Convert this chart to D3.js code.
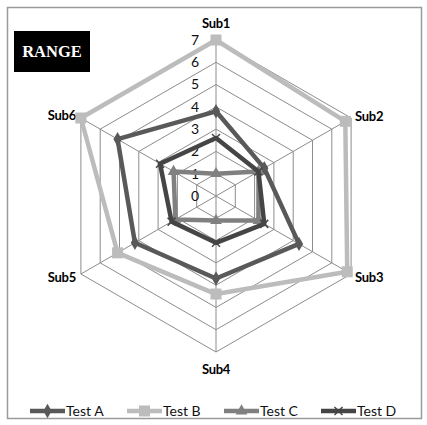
<!DOCTYPE html>
<html><head><meta charset="utf-8">
<script src="https://cdn.jsdelivr.net/npm/d3@7"></script>
<style>html,body{margin:0;padding:0;background:#fff;}svg{display:block;}</style>
</head><body>
<svg id="c" width="427" height="425"></svg>
<script>
const subjects = ["Sub1","Sub2","Sub3","Sub4","Sub5","Sub6"];
const tickValues = [0,1,2,3,4,5,6,7];
const seriesNames = ["Test A","Test B","Test C","Test D"];
const testA = [3.8, 2.5, 4.3, 3.7, 4.2, 5.1];
const testB = [7, 6.7, 6.8, 4.4, 5.1, 7];
const testC = [1, 2.2, 2.2, 1.1, 2.1, 2.2];
const testD = [2.6, 2.2, 2.5, 2.1, 2.3, 2.9];
const titleText = "RANGE";

const series = [
  {name: seriesNames[0], values: testA, color: "#595959", marker: "diamond"},
  {name: seriesNames[1], values: testB, color: "#bcbcbc", marker: "square"},
  {name: seriesNames[2], values: testC, color: "#808080", marker: "triangle"},
  {name: seriesNames[3], values: testD, color: "#454545", marker: "cross"}
];

const svg = d3.select("#c");
const cx = 216, cy = 196;
const r = d3.scaleLinear().domain([0, 7]).range([0, 156]);
const ang = d3.scaleLinear().domain([0, subjects.length]).range([0, 2*Math.PI]);
const pt = (i, v) => [cx + r(v)*Math.sin(ang(i)), cy - r(v)*Math.cos(ang(i))];

// border
svg.append("rect").attr("x",7.5).attr("y",7.5).attr("width",414).attr("height",411)
  .attr("fill","#fff").attr("stroke","#9a9a9a").attr("stroke-width",1.5);

// grid rings
const g = svg.append("g");
tickValues.filter(t => t > 0).forEach(t => {
  g.append("polygon")
    .attr("points", subjects.map((s,i) => pt(i,t).join(",")).join(" "))
    .attr("fill","none").attr("stroke","#8c8c8c").attr("stroke-width",1);
});
subjects.forEach((s,i) => {
  const p = pt(i, 7);
  g.append("line").attr("x1",cx).attr("y1",cy).attr("x2",p[0]).attr("y2",p[1])
    .attr("stroke","#8c8c8c").attr("stroke-width",1);
});

// tick labels
tickValues.forEach(t => {
  svg.append("text").attr("x", cx - 17).attr("y", cy - r(t)).attr("dy","0.35em")
    .attr("text-anchor","end").attr("font-family","Lato, 'Open Sans', sans-serif")
    .attr("font-size",14).attr("fill","#111").text(t);
});

// axis labels
subjects.forEach((s,i) => {
  const p = pt(i, 7);
  let x = p[0], y = p[1], anchor = "middle";
  if (i === 0) { y = p[1] - 17; }
  else if (i === 3) { y = p[1] + 17; }
  else if (i === 1 || i === 2) { x = p[0] + 4; anchor = "start"; y = p[1] + (i===1?-2:3); }
  else { x = p[0] - 5; anchor = "end"; y = p[1] + (i===5?-3:3); }
  svg.append("text").attr("x",x).attr("y",y).attr("dy","0.35em").attr("text-anchor",anchor)
    .attr("font-family","Lato, sans-serif").attr("font-weight","bold").attr("font-size",13)
    .attr("letter-spacing","-0.3").attr("fill","#000").text(s);
});

function drawMarker(sel, type, x, y, color) {
  if (type === "diamond") {
    sel.append("path").attr("d", d3.symbol(d3.symbolDiamond, 60)()).attr("transform",`translate(${x},${y})`).attr("fill",color);
  } else if (type === "square") {
    sel.append("rect").attr("x",x-5.5).attr("y",y-5.5).attr("width",11).attr("height",11).attr("fill",color);
  } else if (type === "triangle") {
    sel.append("path").attr("d", d3.symbol(d3.symbolTriangle, 60)()).attr("transform",`translate(${x},${y})`).attr("fill",color);
  } else {
    sel.append("path").attr("d", `M${x-4},${y-4}L${x+4},${y+4}M${x-4},${y+4}L${x+4},${y-4}`)
      .attr("stroke",color).attr("stroke-width",1.5).attr("fill","none");
  }
}

const line = d3.lineRadial().angle((d,i) => ang(i)).radius(d => r(d)).curve(d3.curveLinearClosed);
series.forEach(s => {
  const sg = svg.append("g");
  sg.append("path").attr("d", line(s.values)).attr("transform",`translate(${cx},${cy})`)
    .attr("fill","none").attr("stroke",s.color).attr("stroke-width",4.5).attr("stroke-linejoin","round");
  s.values.forEach((v,i) => { const p = pt(i,v); drawMarker(sg, s.marker, p[0], p[1], s.color); });
});

// title box
svg.append("rect").attr("x",14).attr("y",31).attr("width",76).attr("height",41).attr("fill","#000");
svg.append("text").attr("x",52).attr("y",51.5).attr("dy","0.35em").attr("text-anchor","middle")
  .attr("font-family","'Liberation Serif', serif").attr("font-weight","bold").attr("font-size",16.5)
  .attr("fill","#fff").text(titleText);

// legend
const lx = d3.scaleLinear().domain([0,1]).range([30,127]);
series.forEach((s,i) => {
  const x0 = lx(i), y0 = 411;
  const lg = svg.append("g");
  lg.append("line").attr("x1",x0).attr("y1",y0).attr("x2",x0+35).attr("y2",y0)
    .attr("stroke",s.color).attr("stroke-width",4.5);
  drawMarker(lg, s.marker, x0+17.5, y0, s.color);
  lg.append("text").attr("x",x0+36).attr("y",y0).attr("dy","0.35em")
    .attr("font-family","Lato, sans-serif").attr("font-size",14).attr("fill","#111").text(s.name);
});
</script>
</body></html>
